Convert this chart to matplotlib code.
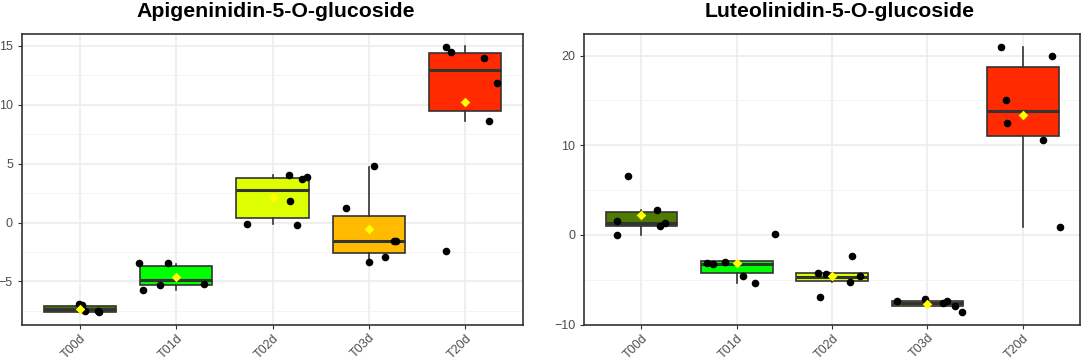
import numpy as np
import matplotlib
matplotlib.use("Agg")
import matplotlib.pyplot as plt

plt.rcParams['font.family'] = ['Liberation Sans', 'DejaVu Sans']

groups = ["T00d", "T01d", "T02d", "T03d", "T20d"]
box_colors = ["#4e7a00", "#00ff00", "#ddff00", "#ffbb00", "#ff2a00"]

# Apigeninidin-5-O-glucoside: individual samples and their jitter offsets
api_vals = [
    [-6.89, -7.0, -7.3, -7.54, -7.54, -7.6],
    [-3.44, -5.76, -5.28, -3.41, -5.25],
    [-0.1, 4.07, 3.7, 3.85, 1.86, -0.17],
    [4.78, 1.22, -1.53, -1.53, -3.33, -2.96],
    [14.92, 14.47, 13.98, 11.86, 8.62, -2.46],
]
api_jit = [
    [-0.01, 0.02, 0.0, 0.055, 0.19, 0.2],
    [-0.39, -0.34, -0.17, -0.08, 0.29],
    [-0.26, 0.17, 0.31, 0.36, 0.18, 0.25],
    [0.05, -0.24, 0.26, 0.28, 0.0, 0.17],
    [-0.2, -0.15, 0.19, 0.33, 0.25, -0.2],
]
# box stats
api_q1 = [-7.57, -5.28, 0.42, -2.6, 9.44]
api_med = [-7.34, -4.86, 2.74, -1.53, 12.92]
api_q3 = [-7.06, -3.73, 3.79, 0.51, 14.35]
api_lo = [-7.6, -5.76, -0.11, -3.3, 8.59]
api_hi = [-6.89, -3.53, 4.04, 4.75, 14.97]

# Luteolinidin-5-O-glucoside
lut_vals = [
    [6.54, 1.6, 0.0, 2.75, 1.0, 1.27],
    [-3.12, -3.23, -2.97, -4.6, -5.35, 0.15],
    [-4.2, -4.35, -6.95, -2.3, -5.31, -4.53],
    [-7.36, -7.2, -7.65, -7.39, -7.95, -8.65],
    [20.96, 19.96, 15.09, 12.53, 10.6, 0.89],
]
lut_jit = [
    [-0.14, -0.26, -0.26, 0.16, 0.19, 0.25],
    [-0.31, -0.25, -0.12, 0.06, 0.19, 0.4],
    [-0.15, -0.06, -0.13, 0.21, 0.19, 0.29],
    [-0.32, -0.03, 0.16, 0.2, 0.29, 0.36],
    [-0.23, 0.31, -0.18, -0.17, 0.21, 0.39],
]
lut_q1 = [1.0, -4.27, -5.13, -7.91, 11.08]
lut_med = [1.34, -3.3, -4.72, -7.65, 13.82]
lut_q3 = [2.5, -2.93, -4.24, -7.36, 18.73]
lut_lo = [0.0, -5.42, -5.31, -7.95, 0.9]
lut_hi = [2.75, -2.93, -4.2, -7.2, 20.96]


def panel(ax, title, title_x, vals, jit, q1, med, q3, lo, hi, ylim, yticks, minor):
    stats = []
    for i in range(len(groups)):
        stats.append(dict(q1=q1[i], med=med[i], q3=q3[i], whislo=lo[i],
                          whishi=hi[i], mean=np.mean(vals[i]), fliers=[]))
    bp = ax.bxp(stats, positions=range(len(groups)), widths=0.75,
                patch_artist=True, showcaps=False, showmeans=False,
                boxprops=dict(edgecolor="#333333", linewidth=1.2),
                medianprops=dict(color="#333333", linewidth=2.2),
                whiskerprops=dict(color="#333333", linewidth=1.2), zorder=2)
    for patch, c in zip(bp["boxes"], box_colors):
        patch.set_facecolor(c)
    for i in range(len(groups)):
        ax.scatter(np.array(jit[i]) + i, vals[i], s=20, color="black", zorder=3)
        ax.scatter([i], [np.mean(vals[i])], marker="D", s=24, color="#ffff00",
                   zorder=4, linewidths=0)

    ax.set_xlim(-0.6, 4.6)
    ax.set_ylim(*ylim)
    ax.set_yticks(yticks)
    ax.set_yticks(minor, minor=True)
    ax.set_xticks(range(len(groups)))
    ax.set_xticklabels(groups, rotation=45, ha="right", rotation_mode="anchor",
                       fontsize=9, color="#4d4d4d")
    ax.tick_params(axis="y", labelsize=9, labelcolor="#4d4d4d", length=3,
                   color="#333333")
    ax.tick_params(axis="x", length=3, color="#333333", pad=2)
    ax.tick_params(axis="y", which="minor", length=0)
    ax.grid(True, which="major", color="#ebebeb", linewidth=1.1, zorder=0)
    ax.grid(True, which="minor", axis="y", color="#f2f2f2", linewidth=0.6, zorder=0)
    ax.set_axisbelow(True)
    for s in ax.spines.values():
        s.set_color("#333333")
        s.set_linewidth(1.2)
    ax.set_title(title, fontsize=15.3, fontweight="bold", pad=12, x=title_x)


fig = plt.figure(figsize=(10.84, 3.59), dpi=100)
ax1 = fig.add_axes([0.0203, 0.0947, 0.4622, 0.8106])
ax2 = fig.add_axes([0.539, 0.0947, 0.4573, 0.8106])

panel(ax1, "Apigeninidin-5-O-glucoside", 0.507, api_vals, api_jit, api_q1,
      api_med, api_q3, api_lo, api_hi, (-8.7, 16.0), [-5, 0, 5, 10, 15],
      [-7.5, -2.5, 2.5, 7.5, 12.5])
panel(ax2, "Luteolinidin-5-O-glucoside", 0.516, lut_vals, lut_jit, lut_q1,
      lut_med, lut_q3, lut_lo, lut_hi, (-10.05, 22.4), [-10, 0, 10, 20],
      [-5, 5, 15])

fig.savefig("out.png", dpi=100)
